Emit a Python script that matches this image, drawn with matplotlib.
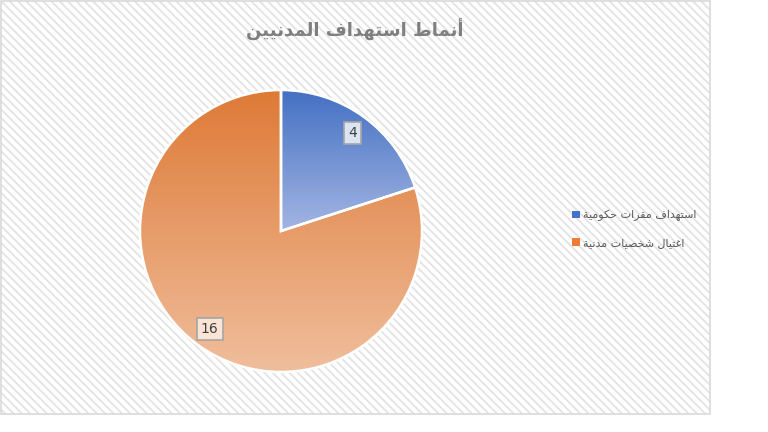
import numpy as np
import matplotlib.pyplot as plt
from matplotlib.patches import Rectangle, Patch
from matplotlib.colors import to_rgb

# chart data
title = "أنماط استهداف المدنيين"
categories = ["استهداف مقرات حكومية", "اغتيال شخصيات مدنية"]
values = [4, 16]
colors_top = ["#4470C2", "#DE7A37"]
colors_bottom = ["#A3B6E3", "#F0BE9C"]
label_fill = ["#DCE3F2", "#FBE4D6"]

# minimal arabic shaping (presentation forms) since matplotlib has no bidi
# forms: isolated, final, initial, medial
FORMS = {
    'ا': (0xFE8D, 0xFE8E), 'أ': (0xFE83, 0xFE84), 'إ': (0xFE87, 0xFE88),
    'آ': (0xFE81, 0xFE82), 'د': (0xFEA9, 0xFEAA), 'ذ': (0xFEAB, 0xFEAC),
    'ر': (0xFEAD, 0xFEAE), 'ز': (0xFEAF, 0xFEB0), 'و': (0xFEED, 0xFEEE),
    'ة': (0xFE93, 0xFE94), 'ى': (0xFEEF, 0xFEF0),
    'ب': (0xFE8F, 0xFE90, 0xFE91, 0xFE92), 'ت': (0xFE95, 0xFE96, 0xFE97, 0xFE98),
    'ث': (0xFE99, 0xFE9A, 0xFE9B, 0xFE9C), 'ج': (0xFE9D, 0xFE9E, 0xFE9F, 0xFEA0),
    'ح': (0xFEA1, 0xFEA2, 0xFEA3, 0xFEA4), 'خ': (0xFEA5, 0xFEA6, 0xFEA7, 0xFEA8),
    'س': (0xFEB1, 0xFEB2, 0xFEB3, 0xFEB4), 'ش': (0xFEB5, 0xFEB6, 0xFEB7, 0xFEB8),
    'ص': (0xFEB9, 0xFEBA, 0xFEBB, 0xFEBC), 'ض': (0xFEBD, 0xFEBE, 0xFEBF, 0xFEC0),
    'ط': (0xFEC1, 0xFEC2, 0xFEC3, 0xFEC4), 'ظ': (0xFEC5, 0xFEC6, 0xFEC7, 0xFEC8),
    'ع': (0xFEC9, 0xFECA, 0xFECB, 0xFECC), 'غ': (0xFECD, 0xFECE, 0xFECF, 0xFED0),
    'ف': (0xFED1, 0xFED2, 0xFED3, 0xFED4), 'ق': (0xFED5, 0xFED6, 0xFED7, 0xFED8),
    'ك': (0xFED9, 0xFEDA, 0xFEDB, 0xFEDC), 'ل': (0xFEDD, 0xFEDE, 0xFEDF, 0xFEE0),
    'م': (0xFEE1, 0xFEE2, 0xFEE3, 0xFEE4), 'ن': (0xFEE5, 0xFEE6, 0xFEE7, 0xFEE8),
    'ه': (0xFEE9, 0xFEEA, 0xFEEB, 0xFEEC), 'ي': (0xFEF1, 0xFEF2, 0xFEF3, 0xFEF4),
}
LAM_ALEF = {'ا': (0xFEFB, 0xFEFC), 'أ': (0xFEF7, 0xFEF8),
            'إ': (0xFEF9, 0xFEFA), 'آ': (0xFEF5, 0xFEF6)}


def shape(text):
    out = []
    chars = list(text)
    i = 0
    while i < len(chars):
        ch = chars[i]
        if ch not in FORMS:
            out.append(ch)
            i += 1
            continue
        prev = chars[i - 1] if i > 0 else None
        joins_prev = prev in FORMS and len(FORMS[prev]) == 4
        if ch == 'ل' and i + 1 < len(chars) and chars[i + 1] in LAM_ALEF:
            lig = LAM_ALEF[chars[i + 1]]
            out.append(chr(lig[1] if joins_prev else lig[0]))
            i += 2
            continue
        nxt = chars[i + 1] if i + 1 < len(chars) else None
        f = FORMS[ch]
        joins_next = len(f) == 4 and nxt in FORMS
        if joins_prev and joins_next:
            out.append(chr(f[3]))
        elif joins_prev:
            out.append(chr(f[1]))
        elif joins_next:
            out.append(chr(f[2]))
        else:
            out.append(chr(f[0]))
        i += 1
    return ''.join(reversed(out))


plt.rcParams['font.family'] = ['DejaVu Sans']
plt.rcParams['hatch.linewidth'] = 1.3

fig = plt.figure(figsize=(7.68, 4.32), dpi=100)

# chart area with diagonal pattern (kept behind the axes)
fig.patches.append(Rectangle((1 / 768, 18 / 432), 709 / 768, 413 / 432,
                             transform=fig.transFigure, facecolor='white',
                             edgecolor='#e3e3e3', lw=0, hatch='\\\\\\\\', zorder=-10))
fig.patches.append(Rectangle((1 / 768, 18 / 432), 709 / 768, 413 / 432,
                             transform=fig.transFigure, facecolor='none',
                             edgecolor='#d9d9d9', lw=1.2, zorder=-9))

ax = fig.add_axes([0, 0, 1, 1])
cx, cy, r = 281, 201, 141
wedges, texts, autotexts = ax.pie(
    values, center=(cx, cy), radius=r, startangle=90, counterclock=False,
    autopct=lambda p: f"{p * sum(values) / 100:.0f}", pctdistance=0.86,
    wedgeprops=dict(edgecolor='white', linewidth=1.8),
    textprops=dict(fontsize=10, color='#404040'))

for w, c0, c1 in zip(wedges, colors_top, colors_bottom):
    ang = np.radians(np.linspace(w.theta1, w.theta2, 300))
    xs = np.r_[cx, cx + r * np.cos(ang)]
    ys = np.r_[cy, cy + r * np.sin(ang)]
    t = np.linspace(0, 1, 256)[:, None]
    grad = (1 - t) * np.array(to_rgb(c0)) + t * np.array(to_rgb(c1))
    im = ax.imshow(grad[:, None, :], extent=[xs.min(), xs.max(), ys.min(), ys.max()],
                   origin='upper', aspect='auto', zorder=0.5, interpolation='bilinear')
    im.set_clip_path(w)
    w.set_facecolor('none')

for t, fc in zip(autotexts, label_fill):
    t.set_bbox(dict(boxstyle='square,pad=0.3', facecolor=fc, edgecolor='#a6a6a6', lw=1.2))

ax.set_xlim(0, 768)
ax.set_ylim(0, 432)
ax.set_aspect('equal')
ax.axis('off')

fig.text(355 / 768, 1 - 30 / 432, shape(title), ha='center', va='center',
         fontsize=13, fontweight='bold', color='#7f7f7f')

handles = [Patch(facecolor=c, edgecolor='none') for c in ["#4472C4", "#ED7D31"]]
fig.legend(handles, [shape(c) for c in categories], loc='center left',
           bbox_to_anchor=(562 / 768, 1 - 229 / 432), frameon=False,
           fontsize=8, labelcolor='#595959', handlelength=0.7, handleheight=0.7,
           handletextpad=0.3, labelspacing=1.5)

fig.savefig('out.png', dpi=100)
